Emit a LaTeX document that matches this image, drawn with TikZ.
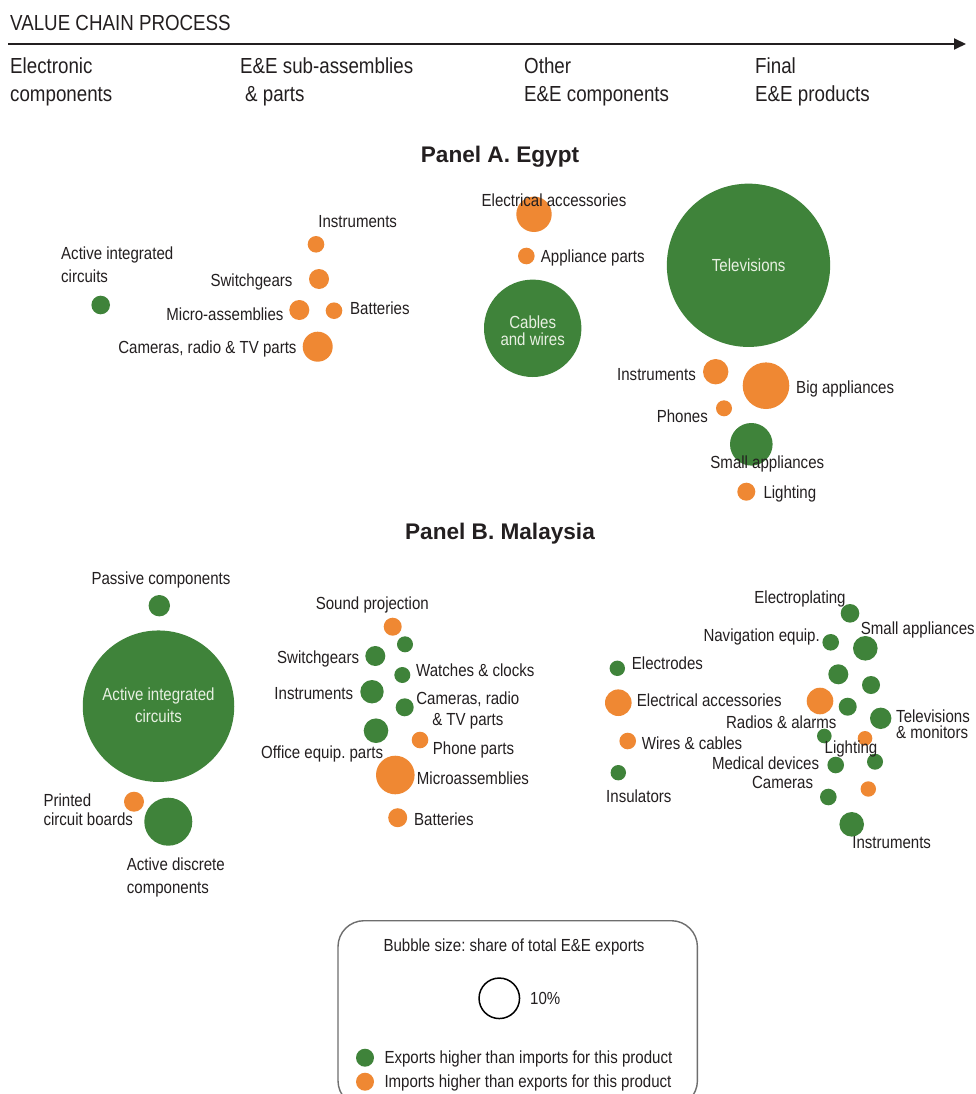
\documentclass[tikz,border=0pt]{standalone}
\usepackage{fontspec}
\setmainfont{Liberation Sans}[FakeStretch=0.86]
\newfontfamily\ttlfont{Liberation Sans}
\usetikzlibrary{arrows.meta}
\frenchspacing
\definecolor{egreen}{RGB}{63,131,58}
\definecolor{eorange}{RGB}{239,136,51}
\definecolor{txt}{RGB}{35,31,32}
\definecolor{intxt}{RGB}{232,240,226}
\definecolor{boxline}{RGB}{110,110,110}
\tikzset{
  bub/.style={circle, inner sep=0pt, minimum size=#1, draw=none},
  gb/.style={bub=#1, fill=egreen},
  ob/.style={bub=#1, fill=eorange},
  lbl/.style={inner sep=0pt, text=txt, font=\frenchspacing\fontsize{17.5}{21}\selectfont, text height=12.6pt, text depth=0pt},
  lblm/.style={inner sep=0pt, text=txt, align=left, font=\frenchspacing\fontsize{17.5}{#1}\selectfont},
  lblc/.style={inner sep=0pt, text=txt, align=center, font=\frenchspacing\fontsize{17.5}{#1}\selectfont},
  inlbl/.style={inner sep=0pt, text=intxt, align=center, font=\frenchspacing\fontsize{17.5}{#1}\selectfont},
  hdr/.style={inner sep=0pt, text=txt, align=left, anchor=west, font=\fontsize{21.8}{27.7}\selectfont},
  ttl/.style={inner sep=0pt, text=txt, font=\frenchspacing\ttlfont\bfseries\fontsize{22.6}{26}\selectfont},
}
\begin{document}
\begin{tikzpicture}[x=1pt,y=-1pt]
\useasboundingbox (0,0) rectangle (976,1094);
\fill[white] (0,0) rectangle (976,1094);

% ---------- header ----------
\node[inner sep=0pt, text=txt, anchor=base west, font=\fontsize{21.8}{26}\selectfont] (vcp) at (10,30.7) {VALUE CHAIN PROCESS};
\coordinate (arS) at (8,44);
\coordinate (arE) at (966,44);
\draw[line width=1.8pt, color=txt, -{Triangle[length=12pt,width=11pt]}] (arS) -- (arE);
\node[hdr] (h1) at (10,82) {Electronic\\components};
\node[hdr] (h2) at (240,82) {E\&E sub-assemblies\\\hspace*{5pt}\& parts};
\node[hdr] (h3) at (524,82) {Other\\E\&E components};
\node[hdr] (h4) at (755,82) {Final\\E\&E products};

% ---------- Panel A ----------
\node[ttl] (tA) at (500,157) {Panel A. Egypt};

\node[gb=18.6pt] (eAIC) at (100.7,305) {};
\node[ob=16.6pt] (eInst) at (316,244.3) {};
\node[ob=20pt] (eSwitch) at (319,279) {};
\node[ob=20pt] (eMicro) at (299.3,310) {};
\node[ob=16.6pt] (eBatt) at (334,310.7) {};
\node[ob=30pt] (eCam) at (317.7,346.7) {};
\node[ob=35.4pt] (eElAcc) at (534,214.3) {};
\node[ob=16.6pt] (eAppl) at (526.3,256) {};
\node[gb=97.4pt] (eCables) at (532.7,328.3) {};
\node[gb=163.3pt] (eTV) at (748.5,265.3) {};
\node[ob=25.4pt] (eInst2) at (715.7,371.7) {};
\node[ob=46.6pt] (eBig) at (766,385.7) {};
\node[ob=16pt] (ePhones) at (724,408.3) {};
\node[gb=42.6pt] (eSmall) at (751.3,444.3) {};
\node[ob=18pt] (eLight) at (746.3,491.7) {};

\node[lbl] (leInst) at (357.7,221) {Instruments};
\node[lblm=23.3pt, anchor=west] (leAIC) at (61,265) {Active integrated\\circuits};
\node[lbl, anchor=east] (leSwitch) at (292.7,280) {Switchgears};
\node[lbl, anchor=east] (leMicro) at (283.7,314) {Micro-assemblies};
\node[lbl, anchor=west] (leBatt) at (350,307.7) {Batteries};
\node[lbl, anchor=east] (leCam) at (296.7,346.7) {Cameras, radio \& TV parts};
\node[lbl] (leElAcc) at (554,200) {Electrical accessories};
\node[lbl, anchor=west] (leAppl) at (540.7,256) {Appliance parts};
\node[inlbl=16.7pt] (leCables) at (532.7,331) {Cables\\and wires};
\node[inlbl=20pt, text height=12.6pt, text depth=0pt] (leTV) at (748.7,265) {Televisions};
\node[lbl, anchor=east] (leInst2) at (696,374.3) {Instruments};
\node[lbl, anchor=west] (leBig) at (796,387.3) {Big appliances};
\node[lbl, anchor=east] (lePhones) at (708,416) {Phones};
\node[lbl] (leSmall) at (767.3,461.7) {Small appliances};
\node[lbl, anchor=west] (leLight) at (763.3,492.3) {Lighting};

% ---------- Panel B ----------
\node[ttl] (tB) at (500,534) {Panel B. Malaysia};

\node[gb=21.4pt] (mPass) at (159.3,605.7) {};
\node[gb=151.5pt] (mAIC) at (158.5,706.2) {};
\node[ob=20pt] (mPCB) at (134,801.7) {};
\node[gb=48pt] (mADisc) at (168.3,821.7) {};

\node[lbl] (lmPass) at (161,578.3) {Passive components};
\node[inlbl=22.3pt] (lmAIC) at (158.5,705) {Active integrated\\circuits};
\node[lblm=19pt, anchor=west] (lmPCB) at (43.3,810) {Printed\\circuit boards};
\node[lblm=22.7pt, anchor=west] (lmADisc) at (126.7,877.5) {Active discrete\\components};

\node[ob=18pt] (mSound) at (392.7,626.7) {};
\node[gb=16pt] (mG1) at (405,644.3) {};
\node[gb=20pt] (mSwitch) at (375.3,656) {};
\node[gb=16pt] (mWatch) at (402.3,675) {};
\node[gb=23.4pt] (mInst) at (372,691.7) {};
\node[gb=18pt] (mCam) at (404.7,707.3) {};
\node[gb=24.6pt] (mOffice) at (376,730.7) {};
\node[ob=16.6pt] (mPhone) at (420,740) {};
\node[ob=38.6pt] (mMicro) at (395.3,775) {};
\node[ob=19pt] (mBatt) at (397.7,817.7) {};

\node[lbl] (lmSound) at (372.3,603.3) {Sound projection};
\node[lbl, anchor=east] (lmSwitch) at (359.3,656.7) {Switchgears};
\node[lbl, anchor=west] (lmWatch) at (416,670) {Watches \& clocks};
\node[lbl, anchor=east] (lmInst) at (353.3,693.3) {Instruments};
\node[lblc=21.7pt] (lmCam) at (467.8,710.5) {Cameras, radio\\\& TV parts};
\node[lbl, anchor=east] (lmOffice) at (383.3,751.7) {Office equip. parts};
\node[lbl, anchor=west] (lmPhone) at (432.7,748.3) {Phone parts};
\node[lbl, anchor=west] (lmMicro) at (416.7,778.3) {Microassemblies};
\node[lbl, anchor=west] (lmBatt) at (414,819) {Batteries};

\node[gb=18.6pt] (mElplat) at (850,613.3) {};
\node[gb=16.6pt] (mNav) at (830.7,642.3) {};
\node[gb=24.6pt] (mSmall) at (865.3,648.3) {};
\node[gb=15.4pt] (mElec) at (617.3,668.3) {};
\node[gb=20pt] (mG2) at (838.3,674.3) {};
\node[gb=18pt] (mG3) at (871,685) {};
\node[ob=26.6pt] (mElAcc) at (618.3,702.7) {};
\node[ob=26.6pt] (mO1) at (820,701) {};
\node[gb=18pt] (mG4) at (847.7,706.7) {};
\node[gb=21.4pt] (mTV) at (880.7,718.3) {};
\node[gb=14.6pt] (mG5) at (824.3,736) {};
\node[ob=14.6pt] (mO2) at (865,738.3) {};
\node[ob=16.6pt] (mWires) at (627.7,741) {};
\node[gb=16pt] (mG6) at (875,761.7) {};
\node[gb=16.6pt] (mMed) at (835.7,765) {};
\node[gb=15.4pt] (mIns) at (618.3,772.7) {};
\node[ob=15.4pt] (mO3) at (868.3,789) {};
\node[gb=16.6pt] (mCamB) at (828.3,797) {};
\node[gb=24.6pt] (mInstB) at (851.7,824.3) {};

\node[lbl] (lmElplat) at (800,596.7) {Electroplating};
\node[lbl, anchor=east] (lmNav) at (820,635) {Navigation equip.};
\node[lbl, anchor=west] (lmSmall) at (860.7,627.7) {Small appliances};
\node[lbl, anchor=west] (lmElec) at (631.7,663.3) {Electrodes};
\node[lbl, anchor=west] (lmElAcc) at (636.7,700) {Electrical accessories};
\node[lblm=16.5pt, anchor=west] (lmTV) at (896,724) {Televisions\\\& monitors};
\node[lbl, anchor=east] (lmRadio) at (836.7,721.7) {Radios \& alarms};
\node[lbl, anchor=west] (lmWires) at (641.7,743.3) {Wires \& cables};
\node[lbl] (lmLight) at (851,746.7) {Lighting};
\node[lbl, anchor=east] (lmMed) at (819.3,763.3) {Medical devices};
\node[lbl, anchor=west] (lmIns) at (606,795.7) {Insulators};
\node[lbl, anchor=east] (lmCamB) at (813.3,781.7) {Cameras};
\node[lbl] (lmInstB) at (891.7,842.3) {Instruments};

% ---------- legend ----------
\node[draw=boxline, line width=1.4pt, rounded corners=26pt, inner sep=0pt,
      minimum width=359.4pt, minimum height=186pt, anchor=north west] (legend) at (337.3,920) {};
\node[lbl] (lgTitle) at (514,945) {Bubble size: share of total E\&E exports};
\node[circle, draw=black, line width=1.5pt, inner sep=0pt, minimum size=40.5pt] (lgCirc) at (499.3,998.3) {};
\node[lbl, anchor=west] (lgPct) at (530,998.3) {10\%};
\node[gb=18pt] (lgG) at (365,1057.7) {};
\node[lbl, anchor=west] (lgGt) at (384.3,1057.5) {Exports higher than imports for this product};
\node[ob=18pt] (lgO) at (365,1081.7) {};
\node[lbl, anchor=west] (lgOt) at (384.3,1081.5) {Imports higher than exports for this product};
\end{tikzpicture}
\end{document}
